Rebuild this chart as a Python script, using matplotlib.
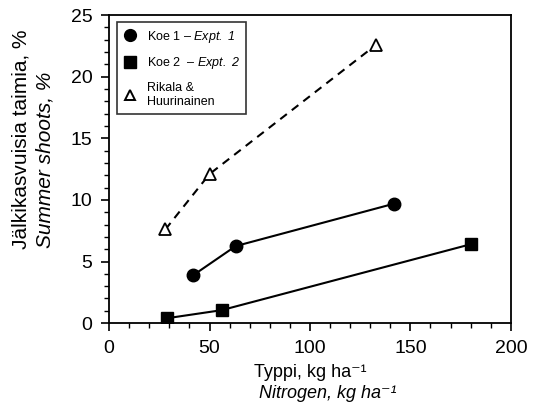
import matplotlib.pyplot as plt
from matplotlib.lines import Line2D
from matplotlib.ticker import MultipleLocator

plt.rcParams['font.family'] = ['Liberation Sans', 'DejaVu Sans']
plt.rcParams['mathtext.fontset'] = 'custom'
plt.rcParams['mathtext.rm'] = 'Liberation Sans:italic'
plt.rcParams['mathtext.it'] = 'Liberation Sans:italic'

# Koe 1 - Expt. 1
koe1_n = [42, 63, 142]
koe1_y = [3.9, 6.25, 9.7]
# Koe 2 - Expt. 2
koe2_n = [29, 56, 180]
koe2_y = [0.4, 1.05, 6.4]
# Rikala & Huurinainen
rik_n = [28, 50, 133]
rik_y = [7.6, 12.1, 22.6]

fig = plt.figure(figsize=(5.4, 4.09), dpi=100)
ax = fig.add_axes([0.202, 0.21, 0.744, 0.753])

ax.plot(koe1_n, koe1_y, color='black', lw=1.5, marker='o', ms=9)
ax.plot(koe2_n, koe2_y, color='black', lw=1.5, marker='s', ms=8.5)
ax.plot(rik_n, rik_y, color='black', lw=1.5, ls=(0, (4, 3)), marker='^',
        ms=8, mfc='white', mew=1.3)

ax.set_xlim(0, 200)
ax.set_ylim(0, 25)
ax.xaxis.set_major_locator(MultipleLocator(50))
ax.xaxis.set_minor_locator(MultipleLocator(10))
ax.yaxis.set_major_locator(MultipleLocator(5))
ax.yaxis.set_minor_locator(MultipleLocator(1))
ax.tick_params(which='major', length=6, width=1.2, labelsize=14, pad=6)
ax.tick_params(which='minor', length=3.5, width=1.0)
for s in ax.spines.values():
    s.set_linewidth(1.3)

handles = [
    Line2D([], [], color='black', marker='o', ls='none', ms=8.5),
    Line2D([], [], color='black', marker='s', ls='none', ms=8.5),
    Line2D([], [], color='black', marker='^', ls='none', ms=7.5, mfc='white', mew=1.4),
]
labels = ['Koe 1 – $Expt.\\ 1$', 'Koe 2  – $Expt.\\ 2$',
          'Rikala &\nHuurinainen']
leg = ax.legend(handles, labels, loc='upper left', fontsize=9, frameon=True,
                fancybox=False, edgecolor='black', handlelength=1.0,
                handletextpad=0.9, labelspacing=0.85, borderpad=0.5,
                bbox_to_anchor=(0.005, 0.997))
leg.get_frame().set_linewidth(1.2)

fig.text(0.039, 0.66, 'Jälkikasvuisia taimia, %', rotation=90,
         ha='center', va='center', fontsize=15)
fig.text(0.083, 0.609, 'Summer shoots, %', rotation=90, style='italic',
         ha='center', va='center', fontsize=15)
fig.text(0.574, 0.09, 'Typpi, kg ha⁻¹', ha='center', va='center',
         fontsize=13)
fig.text(0.607, 0.038, 'Nitrogen, kg ha⁻¹', style='italic', ha='center',
         va='center', fontsize=13)

fig.savefig('out.png', dpi=100)
